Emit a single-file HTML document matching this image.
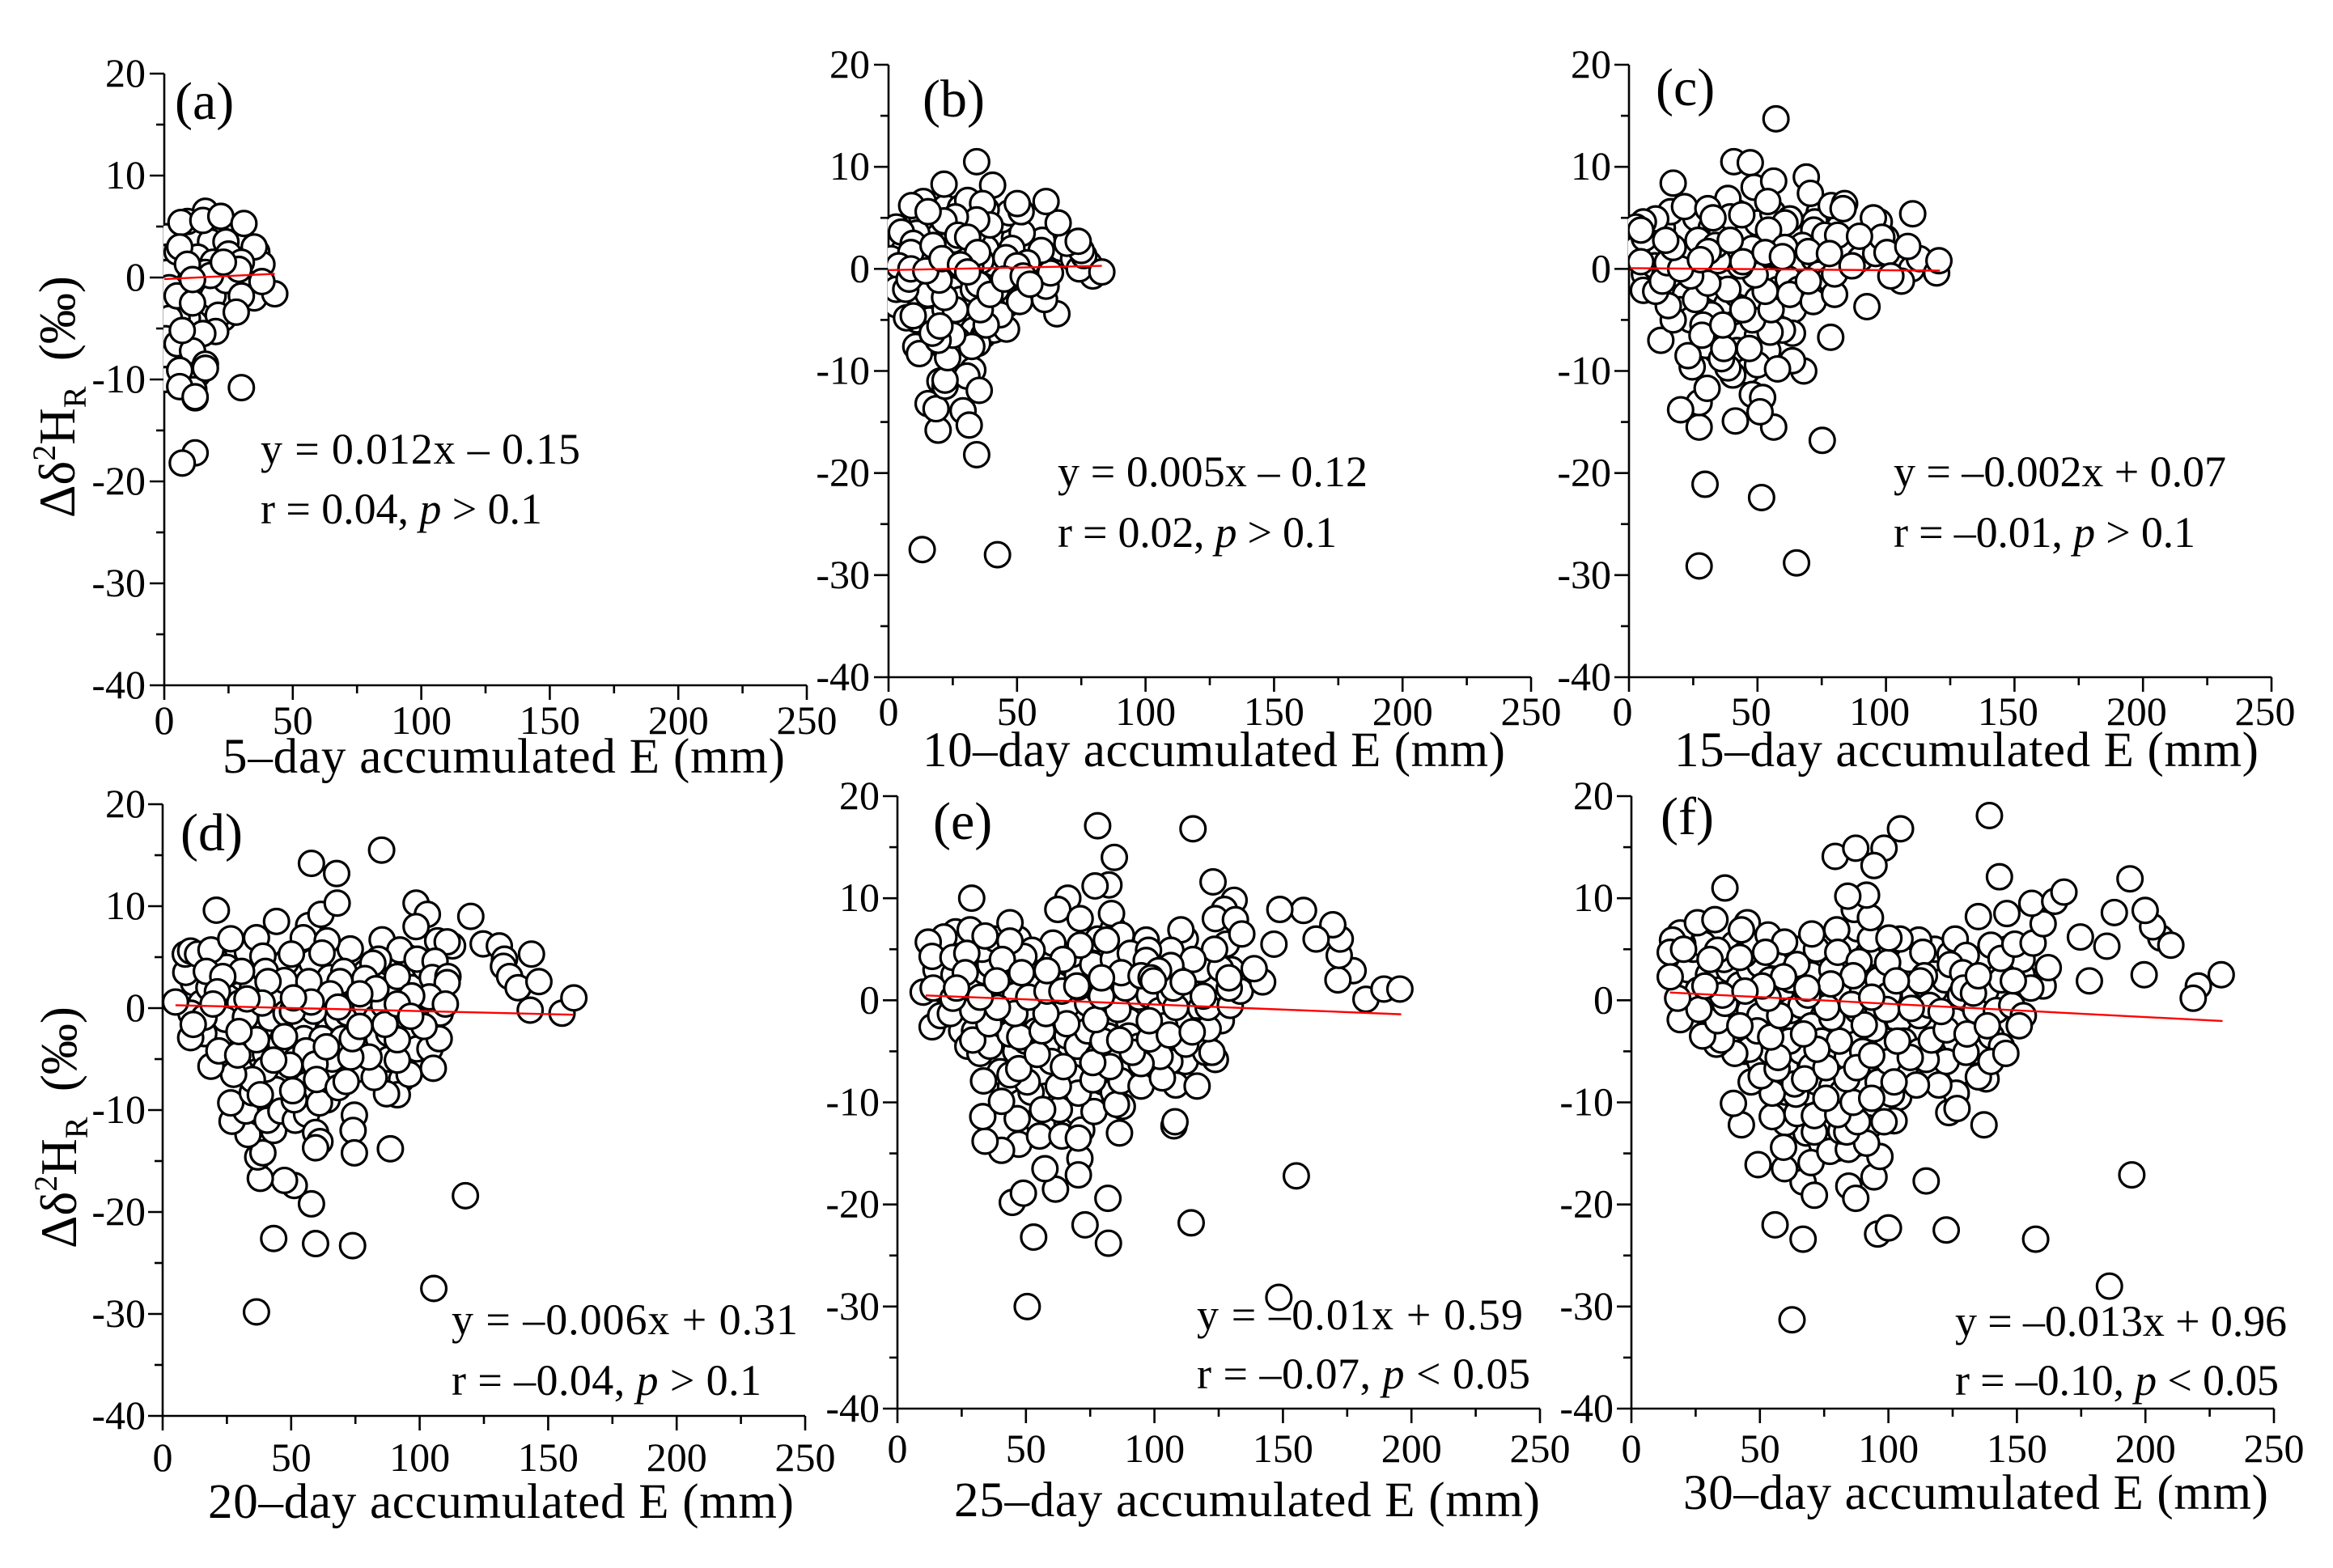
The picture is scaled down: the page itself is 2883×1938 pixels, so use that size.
<!DOCTYPE html>
<html lang="en">
<head>
<meta charset="utf-8">
<title>Scatter plots of Δδ²H_R against accumulated evaporation</title>
<style>
html,body{margin:0;padding:0;background:#fff;}
svg{display:block;}
text{font-family:"Liberation Serif","DejaVu Serif",serif;fill:#000;}
.tick{font-size:50px;}
.title{font-size:61px;}
.eq{font-size:54px;}
.tag{font-size:66px;}
.ytitle{font-size:63px;}
</style>
</head>
<body>
<svg id="figure" width="2883" height="1938" viewBox="0 0 2883 1938" xmlns="http://www.w3.org/2000/svg">
<rect width="2883" height="1938" fill="#fff"/>

<g id="panel-a">
<text class="tag" x="216" y="147">(a)</text>
<text class="eq" x="322" y="573" textLength="395">y = 0.012x – 0.15</text>
<text class="eq" x="322" y="647" textLength="348">r = 0.04, <tspan font-style="italic">p</tspan> &gt; 0.1</text>
<text class="title" x="275" y="955" textLength="695">5–day accumulated E (mm)</text>
<text class="ytitle" transform="translate(92,640) rotate(-90)">Δδ<tspan font-size="40" dy="-24">2</tspan><tspan dy="24">H</tspan><tspan font-size="40" dy="14">R</tspan><tspan dy="-14" xml:space="preserve">  (‰)</tspan></text>
</g>

<g id="panel-b">
<text class="tag" x="1140" y="144">(b)</text>
<text class="eq" x="1307" y="601" textLength="383">y = 0.005x – 0.12</text>
<text class="eq" x="1307" y="676" textLength="345">r = 0.02, <tspan font-style="italic">p</tspan> &gt; 0.1</text>
<text class="title" x="1140" y="947" textLength="720">10–day accumulated E (mm)</text>
</g>

<g id="panel-c">
<text class="tag" x="2046" y="130">(c)</text>
<text class="eq" x="2340" y="601" textLength="411">y = –0.002x + 0.07</text>
<text class="eq" x="2340" y="676" textLength="373">r = –0.01, <tspan font-style="italic">p</tspan> &gt; 0.1</text>
<text class="title" x="2069" y="947" textLength="722">15–day accumulated E (mm)</text>
</g>

<g id="panel-d">
<text class="tag" x="223" y="1051">(d)</text>
<text class="eq" x="558" y="1649" textLength="428">y = –0.006x + 0.31</text>
<text class="eq" x="558" y="1724" textLength="383">r = –0.04, <tspan font-style="italic">p</tspan> &gt; 0.1</text>
<text class="title" x="257" y="1876" textLength="724">20–day accumulated E (mm)</text>
<text class="ytitle" transform="translate(94,1543) rotate(-90)">Δδ<tspan font-size="40" dy="-24">2</tspan><tspan dy="24">H</tspan><tspan font-size="40" dy="14">R</tspan><tspan dy="-14" xml:space="preserve">  (‰)</tspan></text>
</g>

<g id="panel-e">
<text class="tag" x="1153" y="1037">(e)</text>
<text class="eq" x="1479" y="1643" textLength="403">y = –0.01x + 0.59</text>
<text class="eq" x="1479" y="1716" textLength="412">r = –0.07, <tspan font-style="italic">p</tspan> &lt; 0.05</text>
<text class="title" x="1179" y="1874" textLength="724">25–day accumulated E (mm)</text>
</g>

<g id="panel-f">
<text class="tag" x="2052" y="1031">(f)</text>
<text class="eq" x="2416" y="1651" textLength="410">y = –0.013x + 0.96</text>
<text class="eq" x="2416" y="1724" textLength="400">r = –0.10, <tspan font-style="italic">p</tspan> &lt; 0.05</text>
<text class="title" x="2080" y="1865" textLength="723">30–day accumulated E (mm)</text>
</g>
</svg>

<script>
// Chart data: [accumulated E (mm), delta value (permil)]
const pointsA = [[8,3],[14,3],[20,2.5],[26,1],[22,.5],[15,1.5],[10,.5],[7,-.5],[13,-1],[19,-1],[25,-1.5],[31,.5],[33,1.5],[34,-.5],[28,-1],[17,-2],[22,-2.5],[13,-3.5],[8,-3],[4,-1],[3,1],[4,4],[9,4],[17,4.5],[23,4.5],[26,2],[30,0],[21,-.5],[24,.8],[16,-.5],[12,-4.5],[9,-4],[5,-4],[3,-7.5],[8,-8],[13,-9.5],[10,-9],[4,-8.5],[19,-1.8],[20,1],[1,4],[1,2],[1,.5],[2,-1],[1,-3],[2,-4],[.5,-6],[1,-8],[.5,-10],[16,6.5],[12,3.5],[18,3.5],[24,3.5],[36,2.5],[5,2.5],[38,1.3],[28,1.4],[13,2],[19,1.5],[25,2.3],[27,.5],[16,.5],[24,-.3],[35,-2],[30,-1.8],[23,-4],[21,-3.7],[20,-5.3],[15,-5.5],[5,-6.5],[11,-7.2],[16,-8.5],[12,-11.8],[11.5,-11],[6,-9.1],[16,-8.9],[6,-10.7],[12,-11.7],[30,-10.8],[12,-17.2],[7,-18.2],[9,5.5],[6.5,5.4],[15,5.6],[22,6],[31,5.3],[35,3],[6,3],[30,1.5],[29,.8],[43,-1.6],[5,-1.8],[11,-2.5],[28,-3.4],[7,-5.2],[18,.2],[23,1.5],[38,-.4],[9,1.3],[11,-.2]];
const pointsB = [[5,1],[7,2.5],[10,3],[12,1],[14,3.5],[17,1],[20,3],[23,2],[25,.5],[27,-1],[24,-2],[18,-3],[13,-3],[10,-1.5],[6,-.5],[3,.5],[2,-2.5],[5,-3.5],[11,-5],[16,-5],[22,-4],[28,-3],[33,-2],[37,-.5],[41,.5],[44,2],[42,3.5],[38,2],[33,3.5],[30,1],[36,.8],[47,-2],[50,-2.5],[46,-3.5],[42,-2],[53,1.5],[56,2.5],[49,3],[57,-.5],[60,-1],[29,-5.5],[33,-6],[27,-7],[21,-7.5],[37,-6.5],[41,-6],[25,2.8],[17,4.5],[13,5],[22,6],[28,6],[44,4.8],[47,5.5],[38,5.8],[67,2],[72,1],[78,.5],[54,-2],[9,-3],[6,1.8],[40,-3.5],[11,3.5],[15,-1],[19,-2],[32,.2],[35,-1.5],[26,4],[13.1,-27.5],[42.4,-28],[34.3,-18.2],[19.3,-15.8],[29,-13.9],[31.4,-15.3],[15.4,-13.2],[18.5,-13.7],[20,-11],[22,-11.5],[32.8,-9.9],[30.5,-10.5],[35.3,-11.9],[22,-10.9],[23,-8.7],[34.7,-7.3],[10.6,-7.6],[12,-8.3],[32.4,-7.6],[45.9,-5.9],[25,-6.5],[19.3,-7],[17,-6.3],[3,-3.5],[7,-4.8],[9.6,-4.6],[26,-4],[43.4,-4.5],[38,-5.5],[35.7,-4],[20,-5.6],[65.5,-4.4],[60.7,-3],[51,-3.2],[39.5,-2.5],[15.4,-2.5],[21.8,-2.8],[19.7,-1.1],[61.3,-1.7],[63,-.4],[79.5,-.7],[74.2,0],[76,1.3],[75,1.8],[69.4,2.5],[73.8,2.7],[59.8,2.8],[59.4,1.8],[52,3.5],[66,4.5],[51.6,5.6],[50.1,6.4],[61.3,6.6],[83,-.3],[40.5,8.2],[21.6,8.3],[34.3,10.5],[30.8,6.7],[36.6,6.4],[39.5,4.3],[34.3,4.8],[26,5.1],[21.6,4.7],[13.5,6.6],[9,6.2],[15.4,5.6],[3,4.1],[5,3.6],[27,3.3],[30.8,3.1],[1,1],[1,-1.5],[9.6,2.5],[8.7,1.6],[17.3,2.3],[34.7,1.6],[48,2],[45.7,1.1],[54,.6],[50,.3],[45,-1],[52.4,-.7],[55,-1.5],[4,.3],[3,-2],[6.7,-2],[8,-1],[8.7,0],[14.5,-.2],[20.8,1],[28,.4],[30.8,-.3]];
const pointsC = [[8,3],[12,2],[16,1],[20,3],[24,2],[28,3.5],[32,1],[36,-.5],[40,1],[44,3],[48,2],[52,.5],[56,2.5],[60,.5],[64,2],[68,.3],[72,1],[76,.2],[80,1],[84,1.5],[6,-.5],[10,.3],[14,-.5],[18,-1.5],[22,-2.5],[26,-1],[30,-3],[34,-2],[38,-3.5],[42,-2.5],[46,-1.5],[50,-3],[54,-1],[58,-2],[62,-1],[66,-2],[70,-2],[74,-.5],[78,-1],[20,-4],[24,-5],[32,-4.5],[36,-6.5],[40,-5.5],[44,-6.5],[50,-6.5],[58,-4.5],[64,-4],[34,-8],[42,-8],[46,-10],[54,-8],[30,-7.5],[22,4],[26,5],[32,4],[36,3.5],[42,5.5],[50,4.5],[56,5.5],[66,3],[74,5.5],[78,3],[86,2],[90,1],[96,1.5],[100,3],[105,.8],[110,0],[3,2],[6,3],[13,4],[57.2,14.7],[40.8,10.5],[47.2,10.4],[48.7,8],[56.3,8.6],[17.2,8.4],[69,9],[70.6,7.4],[54,6.6],[38.5,6.9],[16.2,5.6],[21.6,6.1],[30.7,5.9],[39.4,5.1],[32.7,5],[43.9,5.3],[10.4,4.9],[5.6,4.6],[2.7,4.1],[4.6,3.8],[62.6,4.9],[60.7,4.5],[54.3,3.8],[72.3,4.6],[71.9,3.8],[76.2,3.3],[81.2,3.3],[78.7,6.2],[83.9,6.4],[83.3,5.9],[97.4,4.6],[95.1,5],[98.4,3.1],[89.7,3.2],[100.4,1.6],[110.4,5.4],[113,1],[108.5,2.2],[119.7,-.4],[120.6,.8],[106,-1.2],[101.9,-.7],[92.6,-3.7],[78.5,-6.7],[68,-10],[75.2,-16.8],[65.2,-28.8],[27.3,-29.1],[51.6,-22.4],[29.6,-21.1],[41.4,-14.9],[56.3,-15.5],[48,-12.3],[52,-12.6],[51,-14],[27.3,-15.5],[27.3,-13.1],[20.1,-13.8],[30.4,-11.7],[40.4,-10.4],[38.5,-9.7],[24.6,-9.6],[50,-9.4],[63.6,-9],[57.8,-9.8],[36,-8.8],[23,-8.5],[36.9,-7.8],[46.8,-7.8],[12.4,-7],[63.6,-6.3],[59.7,-6],[54.9,-6.2],[28.8,-5.5],[28.4,-6.5],[36.5,-5.5],[48.1,-5],[17.2,-5],[15.3,-3.6],[44.3,-4],[55.3,-4],[62.6,-2.5],[71.7,-3.2],[80,-2.5],[25.9,-3],[38.5,-2],[53,-2.2],[5.6,-2.1],[10.4,-2.2],[13,-1.2],[30.7,-1.4],[24,-.7],[49.1,-.6],[69.8,-1.2],[80,-.5],[86.8,.3],[43.3,.3],[4.6,.7],[14.9,.6],[20.1,0],[34.6,.8],[17.2,2.1],[14.3,2.8],[26.9,2.8],[33.7,2.3],[39.4,2.8],[67.5,2.3],[60.7,2.1],[30.8,1.7],[27.8,.9],[44.3,.7],[53,1.6],[59.7,1.2],[69.8,1.7],[78,1.5]];
const pointsD = [[12,2.5],[15,.5],[18,2],[14,-1],[11,-.5],[9,3.5],[25,-1.5],[28,1],[31,3],[35,2],[38,-2],[42,-1],[45,1],[48,-.5],[52,1.5],[55,-1.5],[58,2],[62,.3],[65,-2],[68,-1],[72,-.5],[75,1],[79,.2],[83,-1],[86,.3],[89,2],[93,-.2],[97,2],[100,-1],[104,.8],[108,-.5],[106,2],[26,3.5],[22,-3],[16,-2.5],[34,-5.5],[30,-6],[33,-4],[40,-4.5],[46,-3.5],[48,-7],[44,-8],[52,-5],[56,-7.5],[55,-3],[62,-3],[66,-5],[70,-3],[78,-4],[84,-3],[88,-5],[95,-3],[99,-4],[104,-4],[88,-2.5],[93,-7],[76,-6],[64,-9],[56,-9],[40,-6],[36,-9.5],[44,3],[52,4],[58,4.5],[65,3],[72,2.5],[79,3.5],[88,4.5],[95,5],[102,4],[60,1],[48,4.5],[30,.5],[20,5],[25,4],[33,5.5],[36.5,-29.8],[105.5,-27.5],[43.2,-22.6],[59.5,-23.1],[73.9,-23.3],[117.8,-18.4],[57.9,-19.2],[51.2,-17.4],[47.4,-16.9],[38,-16.7],[37,-14.6],[39,-14.2],[33.2,-12.4],[27,-11.1],[32.4,-10.1],[26.5,-9.3],[43.2,-12],[40.7,-11],[46,-10.1],[51.6,-11],[56,-10.4],[59.5,-12.2],[61.2,-13.1],[59.5,-13.7],[74.6,-10.5],[74.1,-12],[74.6,-14.2],[88.6,-13.8],[91.3,-8.5],[87.1,-8.4],[61,-9.3],[51.2,-9],[50.6,-8.1],[34.9,-8.3],[34.9,-7],[38,-8.5],[27.6,-6.5],[18.8,-5.7],[21.9,-4.2],[10.9,-2.9],[29.2,-4.6],[47.4,-2.8],[55.8,-4.2],[59.3,-5.5],[49.5,-5.6],[59.9,-7],[68.3,-7.8],[71.4,-7.2],[82.3,-6.8],[95.9,-6.5],[105.3,-5.9],[91.3,-5.1],[80.3,-4.8],[73.2,-4.8],[63.7,-3.8],[43.2,-5.1],[36.5,-3.1],[73.8,-3],[91.3,-3.1],[107.6,-3],[101.7,-1.8],[76.7,-1.8],[86.5,-1.6],[24.4,-1.1],[32.2,-.9],[16.1,-.9],[29.7,-2.3],[11.9,-1.6],[5,.6],[8.8,5.3],[10.9,5.6],[13.6,5.3],[18.8,5.7],[20.9,9.6],[26.5,6.8],[36.5,6.9],[44.3,8.5],[56.8,8.1],[54.7,6.9],[61.6,9.2],[57.9,14.2],[67.7,13.2],[67.9,10.3],[85.2,15.5],[98.6,10.3],[103,9.2],[98.6,8],[119.9,9],[124.7,6.3],[131,6.1],[133,4.8],[132.6,4.1],[135,3.1],[138.3,2],[143.5,5.3],[146.4,2.6],[143,-.2],[155.4,-.5],[160,1],[112.8,6.1],[107,6.6],[110.7,6.5],[85.4,6.7],[92.3,5.7],[73,5.8],[64,6.6],[62,5.4],[50.1,5.3],[39,5.1],[84,4.8],[81.8,4.4],[99,4.8],[106,4.6],[104.9,3],[111,3.1],[110.7,2.5],[91.3,3.1],[70.5,3.6],[40,3.6],[30.7,3.6],[17,3.6],[23.4,3.1],[47.4,2.7],[41,2.6],[56.9,2.6],[69,2.6],[78.7,2.9],[83,1.9],[65.2,1.4],[76.7,1.4],[103.8,1.1],[96.9,1.2],[110,.4],[91.3,.4],[96.5,-.8],[68.3,.1],[58.8,-.3],[50.5,-.3],[57.8,.6],[50.9,1],[38.7,.5],[32.8,.9],[21.3,1.6],[19.6,.4]];
const pointsE = [[15,3],[18,1],[22,2.5],[26,-.5],[30,1.5],[34,2.8],[38,.5],[42,2.8],[46,.5],[50,-1],[54,1.5],[58,-1],[62,1.5],[66,-.5],[70,2.5],[74,-.3],[78,1],[82,-1.5],[86,.5],[90,-2],[94,.3],[98,.5],[102,-1],[106,.5],[110,-2],[114,.8],[118,-.8],[122,2],[126,-2],[130,3],[25,-3],[30,-3],[38,-3],[42,-3.5],[46,-5],[50,-4],[54,-3],[58,-4.5],[62,-2.5],[66,-3.5],[70,-4.5],[74,-3],[78,-5.5],[82,-3.5],[86,-5.5],[90,-3.5],[94,-4.5],[100,-5],[104,-2.5],[108,-5],[112,-6],[116,-3],[120,-4.5],[40,-7],[44,-8.5],[48,-10],[52,-9],[56,-7],[60,-6],[64,-9.5],[68,-7.5],[72,-11],[76,-9],[80,-8],[84,-9],[90,-7],[98,-7],[106,-6],[55,-12],[60,-12],[66,-12],[70,-11],[36,3.5],[44,4],[52,3.5],[60,4],[68,4.5],[76,3.5],[84,4],[92,3],[110,4],[118,3],[125,5],[128,5.5],[33,5],[38,6],[47,6],[78,6],[84,7],[112,6],[100,4],[50.5,-30],[148.4,-29.1],[53,-23.2],[82.1,-23.8],[73,-22],[114.3,-21.8],[155.2,-17.2],[81.9,-19.4],[44.7,-19.8],[49,-18.9],[61.5,-18.5],[57.4,-16.5],[71,-15.5],[70.4,-17.1],[47.2,-14.1],[40.5,-14.7],[34.1,-13.8],[33.2,-11.4],[46.6,-11.6],[55.3,-13.3],[64,-13.3],[71.7,-12.7],[70.4,-13.5],[86.4,-13],[107.6,-12.3],[108,-11.9],[40.5,-9.9],[33.5,-7.9],[63,-10.7],[56.5,-10.7],[76.5,-10.9],[87.5,-10.4],[85.2,-10.2],[70.4,-9.1],[50.5,-8],[62.6,-8.4],[76.1,-7.8],[87,-7.9],[94.8,-8.4],[108.3,-8.3],[103.1,-7.6],[116.6,-8.4],[123.7,-5.8],[119.9,-5.1],[122.4,-5.1],[102.2,-5.5],[94.8,-6.2],[82.7,-6.5],[76,-6.1],[64.6,-6.5],[43.8,-7.3],[47.2,-6.7],[54.4,-5.3],[91.4,-5.1],[27.4,-4.5],[32.1,-5.2],[36,-4.5],[29.3,-3.9],[43.8,-3.3],[47.6,-3.6],[56.3,-3],[80,-4],[86.5,-3.9],[98.1,-3.8],[112.2,-4.3],[105.8,-3.4],[120.9,-2.8],[114.7,-3.1],[13.5,-2.6],[65.9,-2.3],[77.1,-1.9],[98,-2],[57.8,-1.3],[45.7,-1.3],[16.8,-1.5],[20.6,-1.3],[35.6,-2.3],[29.3,-1],[38.9,-.7],[85.8,-.9],[108.3,-.7],[120.9,-.7],[129.5,-.5],[10,.8],[32.2,.3],[51.1,.3],[133.4,.9],[129.1,1.2],[119,.4],[107.4,1.2],[88.7,1.2],[58.2,.9],[64,.9],[79.4,.4],[70.4,1.3],[182.3,.1],[189.3,1.1],[195.5,1.1],[177.3,2.9],[171.4,2],[171.9,4.4],[172.3,6],[169.4,7.4],[162.9,6],[158,8.8],[148.8,8.9],[146.5,5.5],[142.1,1.8],[138.8,3.1],[125.7,3.1],[129,2.2],[131,9.8],[127.2,8.9],[123.7,8],[131.5,7.9],[134,6.5],[122.8,11.6],[115,16.8],[77.9,17.1],[84.4,14],[82.3,11.3],[76.9,11.2],[66.3,10],[62.4,8.9],[71.1,8],[83.3,8.5],[110.3,6.9],[123.4,5],[106.4,4.9],[115,4],[96.8,5.9],[87.1,6.4],[81.3,5.9],[71.1,5.4],[60.5,5.6],[52.4,4.9],[49.2,4.3],[43.8,7.6],[43.8,5.8],[64.4,4],[90.6,4.6],[97.7,4.9],[96.8,3.9],[106.4,3.4],[28.9,10],[22.6,6.7],[28.3,6.9],[18.1,6.2],[34.1,6.3],[12,5.7],[13.5,4.3],[21.6,4.2],[27,4.6],[40.8,4],[38.6,1.9],[48.3,2.7],[58.2,2.9],[26.4,2.7],[87.1,2.7],[94.8,2.4],[101.6,2.9],[111.2,1.8],[98.7,2.2],[99.6,1.9],[79.4,2.2],[69.8,1.4],[13.9,1.2],[21.6,.2],[23,1.2]];
const pointsF = [[18,4],[22,3],[26,1],[30,2.5],[34,1],[38,3],[42,1.5],[46,3],[50,3.5],[54,2],[58,.5],[62,2],[66,3.5],[70,2.5],[74,.5],[78,3],[82,1],[90,1],[96,2],[100,.5],[106,2.5],[110,.5],[114,1.5],[118,1],[122,2],[128,.5],[138,1],[144,2],[152,2.5],[30,-1.5],[38,-1.5],[46,-1],[50,-1.5],[62,-1],[66,-.5],[70,-2.5],[84,-2],[88,-1],[96,-1],[104,-2],[112,-1.5],[116,-.5],[126,-2],[134,-1],[142,-1],[148,-.5],[40,-4],[44,-5],[50,-6],[54,-5],[60,-6.5],[66,-5],[70,-6.5],[74,-4],[78,-5],[84,-5.5],[90,-5],[96,-6],[100,-4],[106,-4],[112,-5],[120,-4],[126,-4],[134,-5],[140,-3.5],[144,-4.5],[56,-9],[60,-9],[68,-9],[72,-8],[78,-8.5],[82,-9],[90,-8],[96,-8],[104,-9.5],[116,-7],[128,-7],[68,-13],[74,-14],[80,-14.5],[88,-14],[92,-12.5],[60,-12],[78,-12],[100,-6],[36,4],[40,5.5],[44,4.5],[48,5.5],[56,4.5],[64,5],[72,5],[84,5.5],[92,4.5],[108,4],[118,5],[124,4.5],[136,4],[146,5],[152,4],[24,5],[28,5.5],[20,5.5],[88,7],[93,6],[62.5,-31.3],[186,-28],[157.3,-23.4],[66.8,-23.4],[55.9,-22],[95.8,-22.9],[100,-22.3],[122.5,-22.5],[194.7,-17.1],[114.7,-17.7],[84.6,-18.2],[87.3,-19.4],[66.8,-17.8],[71.2,-19.1],[94.4,-17.3],[59.6,-16.5],[49.3,-16.1],[69.9,-15.9],[96.7,-15.3],[59.2,-14.4],[77.2,-14.8],[84.4,-14.6],[91.5,-14],[42.8,-12.2],[39.7,-10.1],[54.8,-11.4],[64.4,-11.1],[71.2,-12.9],[81.5,-12.8],[83.8,-12.9],[88,-11.9],[71.2,-11.3],[80.3,-11.2],[102.2,-11.8],[98.3,-11.9],[137.2,-12.2],[123.5,-11],[126.4,-9.1],[126.7,-10.6],[119.6,-8.3],[110.9,-8.3],[138,-7.7],[135,-7.5],[139.9,-6],[145.7,-5.2],[122.5,-6],[114.7,-5.8],[108.5,-5.6],[101.2,-9.2],[102.2,-8],[86.3,-10],[93.5,-9.6],[75.7,-9.6],[64,-9.2],[54.8,-9.1],[63.5,-8.2],[46.6,-8],[50.5,-7.4],[56.7,-6.7],[67.4,-7.7],[83.8,-7.7],[75.7,-6.6],[87.7,-6.6],[93.5,-5.4],[80.9,-4],[72.2,-4.8],[61.5,-4],[57.1,-5.6],[46,-4.8],[40.2,-5.2],[33.1,-4.3],[35,-3.9],[27.7,-3.5],[49,-3],[54.2,-3.6],[67,-3.3],[94.4,-2.8],[90.6,-2.4],[103.5,-4],[116.7,-3.9],[122.5,-2.9],[130.2,-5.1],[130.6,-3.3],[138.5,-2.5],[152.5,-1.5],[150.9,-2.5],[19,-1.9],[33.5,-2],[42.2,-2.5],[26.3,-.9],[57.7,-1.5],[78,-1.7],[76,-.7],[99.3,-.9],[120.5,-1.1],[108.9,-.8],[36.4,-.3],[18,.2],[35.4,.5],[53.2,.2],[85.7,-.4],[93.5,.3],[68.7,.5],[19,6.6],[16,5.9],[15.1,4.7],[15.1,2.3],[20.3,5],[25.7,7.6],[32.5,7.9],[36.4,11],[45.1,7.6],[42.8,6.9],[53.2,6.4],[59.6,5.7],[70.2,6.5],[79.9,6.9],[80.3,4.7],[52.2,4.7],[33.5,4.9],[30.6,4],[42.2,4.2],[64.4,3.5],[88.6,3.8],[99.7,3.7],[86.3,2.4],[77.6,1.6],[59.2,2.3],[50.9,1.4],[44.2,.9],[28.6,1.4],[68.3,1.2],[111.8,5.9],[113.4,4.7],[104.5,6],[100.2,6.1],[126,6],[130.3,4.4],[124.1,3.5],[114,2.4],[112.4,1.9],[103.1,1.9],[128.9,2.7],[129.3,1.2],[133.1,.7],[135,2.4],[160.2,1.4],[155.4,1.2],[148.6,1.9],[162.2,3.2],[139.9,5.4],[143.8,4.1],[149.2,5.5],[156.3,5.6],[160.2,7.5],[155.8,9.5],[146.1,8.5],[135,8.2],[143.2,12.1],[139.3,18.1],[164.7,9.7],[168.3,10.6],[174.7,6.2],[185,5.3],[178.2,1.9],[187.9,8.6],[194,11.9],[206,6.1],[209.9,5.4],[202.8,7.2],[199.9,8.8],[199.5,2.5],[220.6,1.4],[218.6,.2],[229.5,2.5],[104.7,16.8],[98.3,14.9],[79.3,14.1],[87.3,14.9],[94.4,13.2],[86.7,8.9],[93,8.1],[91.5,10.3],[84.2,10.2]];

const seriesPoints = [pointsA, pointsB, pointsC, pointsD, pointsE, pointsF];
const fitSlopes = [0.012, 0.005, -0.002, -0.006, -0.01, -0.013];
const fitIntercepts = [-0.15, -0.12, 0.07, 0.31, 0.59, 0.96];
const fitStarts = [0, 0, 0.5, 5, 11, 15];
const fitEnds = [43, 83, 121, 160, 196, 230];
const xTickLabels = [0, 50, 100, 150, 200, 250];
const yTickLabels = [20, 10, 0, -10, -20, -30, -40];
const xMinorTicks = [25, 75, 125, 175, 225];
const yMinorTicks = [15, 5, -5, -15, -25, -35];

// Layout (separate from data)
const panelIds = ['a', 'b', 'c', 'd', 'e', 'f'];
const frames = [
  {x0: 203, x1: 997, yTop: 91, yBot: 847, yLabelX: 180, xLabelBase: 907, xLabelDx: 0},
  {x0: 1098, x1: 1892, yTop: 80, yBot: 837, yLabelX: 1075, xLabelBase: 896, xLabelDx: 0},
  {x0: 2013, x1: 2807, yTop: 80, yBot: 837, yLabelX: 1991, xLabelBase: 896, xLabelDx: -8},
  {x0: 201, x1: 995, yTop: 994, yBot: 1750, yLabelX: 180, xLabelBase: 1818, xLabelDx: 0},
  {x0: 1109, x1: 1903, yTop: 984, yBot: 1741, yLabelX: 1087, xLabelBase: 1807, xLabelDx: 0},
  {x0: 2016, x1: 2810, yTop: 984, yBot: 1741, yLabelX: 1994, xLabelBase: 1807, xLabelDx: 0}
];
const NS = 'http://www.w3.org/2000/svg';
const X_MAX = 250, Y_MIN = -40, Y_MAX = 20;

function node(tag, attrs) {
  const el = document.createElementNS(NS, tag);
  for (const k in attrs) el.setAttribute(k, attrs[k]);
  return el;
}

panelIds.forEach(function (id, i) {
  const f = frames[i];
  const group = document.getElementById('panel-' + id);
  const first = group.firstChild;
  const xScale = function (v) { return f.x0 + (v / X_MAX) * (f.x1 - f.x0); };
  const yScale = function (v) { return f.yBot - ((v - Y_MIN) / (Y_MAX - Y_MIN)) * (f.yBot - f.yTop); };

  const axes = node('g', {stroke: '#000', 'stroke-width': 2.6, fill: 'none'});
  
  
  group.insertBefore(axes, first);

  const yAxis = node('line', {x1: f.x0, x2: f.x0, y1: f.yTop, y2: f.yBot});
  
  
  axes.appendChild(yAxis);

  const xAxis = node('line', {x1: f.x0, x2: f.x1, y1: f.yBot, y2: f.yBot});
  
  
  axes.appendChild(xAxis);

  xTickLabels.forEach(function (v) {
    const tick = node('line', {x1: xScale(v), x2: xScale(v), y1: f.yBot, y2: f.yBot + 18});
    
    
    axes.appendChild(tick);
    const label = node('text', {x: xScale(v) + f.xLabelDx, y: f.xLabelBase, 'text-anchor': 'middle', 'class': 'tick'});
    
    
    label.textContent = v;
    group.appendChild(label);
  });
  xMinorTicks.forEach(function (v) {
    const tick = node('line', {x1: xScale(v), x2: xScale(v), y1: f.yBot, y2: f.yBot + 10});
    
    
    axes.appendChild(tick);
  });
  yTickLabels.forEach(function (v) {
    const tick = node('line', {x1: f.x0 - 18, x2: f.x0, y1: yScale(v), y2: yScale(v)});
    
    
    axes.appendChild(tick);
    const label = node('text', {x: f.yLabelX, y: yScale(v) + 16, 'text-anchor': 'end', 'class': 'tick'});
    
    
    label.textContent = v;
    group.appendChild(label);
  });
  yMinorTicks.forEach(function (v) {
    const tick = node('line', {x1: f.x0 - 10, x2: f.x0, y1: yScale(v), y2: yScale(v)});
    
    
    axes.appendChild(tick);
  });

  const clip = node('clipPath', {id: 'clip-' + id});
  clip.appendChild(node('rect', {x: f.x0 - 1, y: f.yTop - 40, width: f.x1 - f.x0 + 40, height: f.yBot - f.yTop + 40}));
  group.insertBefore(clip, first);

  const marks = node('g', {'clip-path': 'url(#clip-' + id + ')'});
  
  
  group.insertBefore(marks, first);
  seriesPoints[i].forEach(function (p) {
    const c = node('circle', {cx: xScale(p[0]), cy: yScale(p[1]), r: 15.4, fill: '#fff', stroke: '#000', 'stroke-width': 3.2});
    
    
    marks.appendChild(c);
  });

  const fit = node('line', {
    x1: xScale(fitStarts[i]), y1: yScale(fitSlopes[i] * fitStarts[i] + fitIntercepts[i]),
    x2: xScale(fitEnds[i]), y2: yScale(fitSlopes[i] * fitEnds[i] + fitIntercepts[i]),
    stroke: '#f00', 'stroke-width': 2.4
  });
  
  
  group.insertBefore(fit, first);
});
</script>
</body>
</html>
